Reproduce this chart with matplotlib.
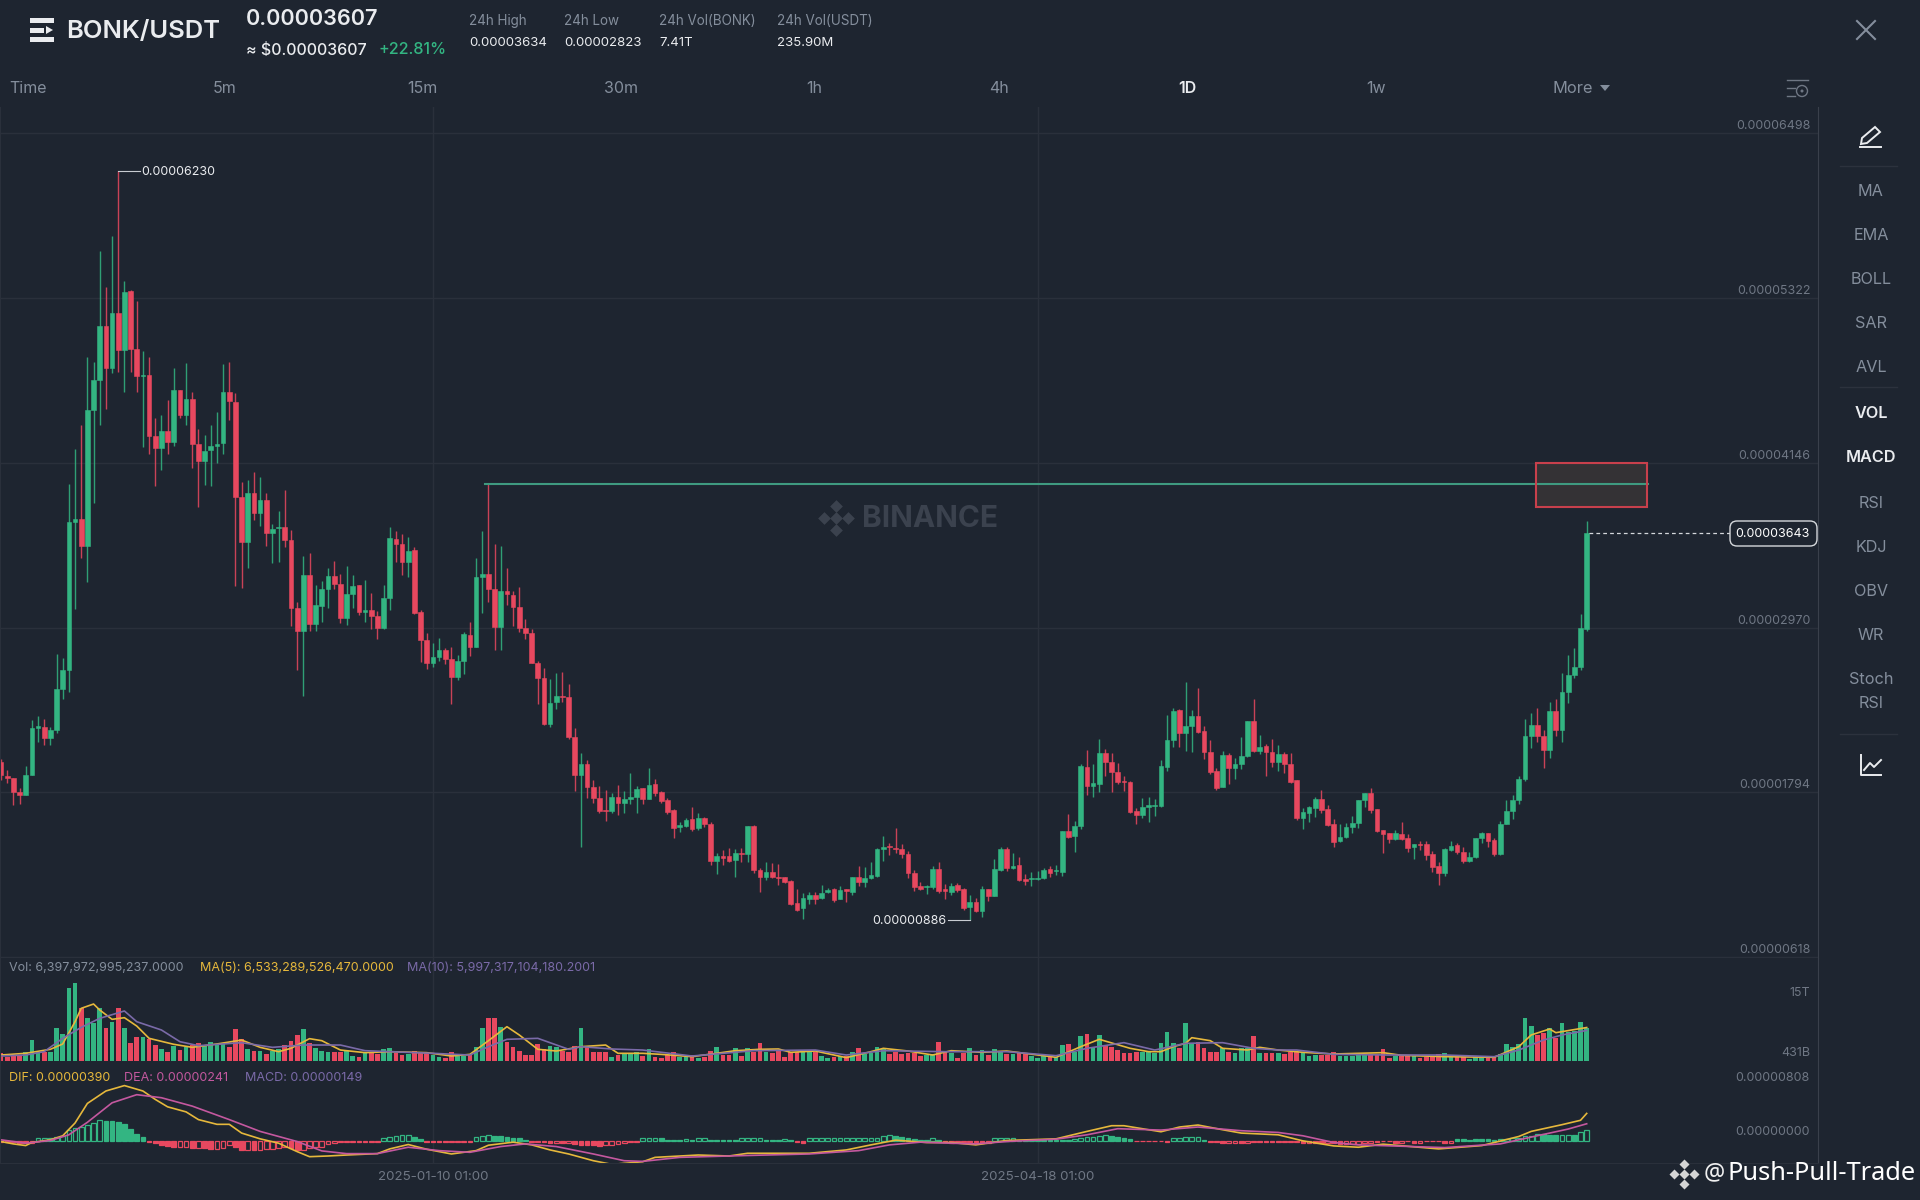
import numpy as np
from matplotlib import pyplot as plt
from matplotlib.patches import Rectangle, FancyBboxPatch, Circle, Polygon

plt.rcParams['font.family'] = ['Inter', 'DejaVu Sans']

# prices are in units of 0.00000001
opens = [2008,1912,1899,1797,1775,1915,2255,2261,2184,2237,
         2534,2670,3722,3744,3555,4520,4737,5124,4820,5217,
         4947,5371,4954,4768,4774,4335,4251,4375,4294,4666,
         4489,4604,4279,4158,4236,4267,4288,4650,4582,3901,
         3583,3932,3784,3880,3648,3679,3685,3592,3106,2942,
         3344,2998,3126,3245,3338,3281,3036,3207,3274,3083,
         3095,3055,2964,3183,3604,3564,3438,3523,3079,2881,
         2715,2762,2810,2746,2615,2729,2917,2834,3328,3352,
         3245,2976,3231,3205,3119,2967,2929,2719,2612,2282,
         2436,2484,2477,2191,1918,1996,1830,1751,1668,1661,
         1763,1720,1749,1758,1822,1744,1851,1799,1739,1668,
         1544,1556,1601,1542,1611,1568,1306,1339,1339,1311,
         1358,1351,1553,1239,1187,1223,1192,1190,1161,1002,
         966,1033,1061,1037,1085,1102,1033,1102,1080,1187,
         1156,1180,1197,1387,1411,1399,1389,1351,1220,1128,
         1120,1116,1244,1101,1085,1132,1104,973,1009,949,
         1101,1054,1239,1389,1251,1273,1173,1173,1173,1180,
         1244,1230,1225,1518,1484,1553,1977,1839,1853,2072,
         2013,1941,1877,1870,1663,1632,1691,1696,1696,1977,
         2167,2381,2219,2269,2341,2231,2079,1948,1834,2060,
         1965,1993,2053,2303,2091,2124,2084,2013,2067,1993,
         1882,1613,1649,1684,1744,1672,1568,1449,1473,1549,
         1572,1739,1791,1675,1525,1501,1458,1496,1468,1406,
         1425,1423,1354,1270,1216,1382,1415,1370,1304,1330,
         1465,1501,1453,1351,1568,1661,1739,1886,2198,2274,
         2198,2096,2374,2239,2512,2631,2686,2959]
closes = [1921,1896,1797,1775,1915,2255,2268,2184,2237,2534,
          2664,3722,3744,3555,4520,4737,5124,4820,5217,4947,
          5365,4954,4768,4774,4335,4251,4375,4294,4666,4489,
          4604,4282,4158,4226,4263,4282,4650,4588,3901,3583,
          3932,3784,3880,3648,3676,3685,3598,3112,2942,3344,
          2998,3128,3243,3338,3281,3036,3207,3269,3079,3093,
          3055,2964,3181,3607,3564,3438,3516,3076,2881,2715,
          2760,2807,2746,2619,2729,2922,2834,3328,3352,3245,
          2976,3231,3207,3119,2964,2929,2719,2612,2282,2434,
          2484,2474,2191,1918,1996,1830,1751,1663,1661,1763,
          1720,1744,1758,1815,1744,1849,1791,1734,1656,1537,
          1561,1599,1530,1611,1565,1306,1339,1323,1306,1358,
          1354,1553,1239,1187,1223,1192,1185,1154,997,954,
          1037,1061,1030,1078,1099,1026,1097,1092,1192,1156,
          1180,1204,1389,1404,1401,1387,1351,1220,1120,1106,
          1128,1247,1092,1092,1128,1097,971,1009,947,1104,
          1056,1247,1389,1251,1268,1168,1161,1180,1180,1239,
          1216,1239,1518,1477,1553,1982,1841,1858,2072,2013,
          1941,1870,1865,1656,1632,1691,1703,1706,1984,2167,
          2374,2219,2269,2341,2222,2079,1941,1822,2060,1970,
          1996,2053,2303,2091,2115,2084,2013,2067,1993,1870,
          1608,1651,1687,1746,1668,1561,1442,1473,1549,1572,
          1739,1791,1668,1520,1494,1458,1501,1458,1394,1425,
          1415,1346,1263,1216,1387,1413,1366,1304,1330,1470,
          1501,1449,1354,1568,1661,1741,1889,2196,2274,2198,
          2096,2374,2239,2512,2631,2686,2969,3643]
highs = [2035,1952,1899,1828,1983,2308,2339,2314,2261,2781,
         2750,3994,4242,4418,4898,4867,5659,5402,5767,6230,
         5442,5381,5300,4944,4898,4465,4489,4591,4820,4666,
         4855,4653,4387,4341,4412,4505,4851,4867,4644,4010,
         4025,4081,4047,3932,3710,3799,3948,3669,3152,3477,
         3499,3273,3302,3393,3447,3350,3409,3345,3274,3309,
         3219,3088,3274,3685,3659,3638,3619,3547,3095,2929,
         2862,2893,2822,2829,2774,2936,3007,3469,3659,3996,
         3564,3554,3393,3231,3257,3031,2960,2734,2679,2600,
         2643,2650,2565,2251,2072,2025,1882,1842,1811,1787,
         1846,1806,1934,1839,1822,1965,1887,1803,1756,1672,
         1585,1608,1692,1644,1620,1585,1358,1382,1399,1389,
         1394,1553,1561,1251,1294,1287,1282,1192,1168,1104,
         1073,1085,1085,1133,1113,1109,1128,1102,1192,1268,
         1259,1294,1394,1482,1430,1542,1423,1377,1239,1156,
         1132,1268,1299,1140,1144,1149,1109,1061,1042,1125,
         1101,1316,1406,1401,1363,1330,1211,1223,1235,1256,
         1268,1275,1518,1639,1589,1993,2096,1996,2172,2101,
         2072,2001,1913,1877,1679,1756,1763,1744,2024,2346,
         2398,2390,2579,2381,2536,2267,2167,1965,2089,2077,
         2041,2186,2303,2460,2203,2136,2172,2131,2084,2077,
         1882,1679,1699,1763,1810,1703,1601,1568,1577,1625,
         1739,1791,1822,1675,1525,1506,1525,1584,1494,1425,
         1449,1449,1375,1299,1394,1446,1430,1406,1366,1470,
         1513,1506,1465,1589,1739,1775,1913,2315,2362,2393,
         2239,2441,2457,2643,2774,2821,3066,3730]
lows = [1884,1859,1704,1710,1775,1915,2153,2131,2131,2215,
        2462,2509,3103,3468,3298,3855,4412,4526,4783,4793,
        4653,4793,4653,4257,4205,3979,4096,4205,4267,4468,
        4412,4109,3833,3985,3979,4143,4211,4449,3267,3252,
        3397,3740,3691,3555,3431,3437,3546,2982,2664,2478,
        2948,2942,3012,3107,3243,3005,2988,3112,3060,3007,
        2960,2888,2960,3095,3440,3345,3328,3064,2722,2674,
        2686,2734,2707,2424,2596,2639,2769,2834,3076,3155,
        2810,2810,3131,2983,2936,2888,2715,2424,2275,2263,
        2386,2441,2172,1806,1406,1751,1720,1644,1590,1644,
        1632,1649,1711,1649,1708,1744,1770,1720,1637,1466,
        1513,1549,1518,1525,1549,1275,1208,1275,1294,1192,
        1299,1299,1216,1080,1168,1185,1133,1145,990,949,
        890,997,997,1030,1073,1014,1030,1014,1061,1125,
        1121,1173,1192,1304,1346,1358,1327,1180,1090,1097,
        1066,1101,1078,1030,1061,1085,954,886,942,906,
        1021,1054,1235,1232,1247,1163,1132,1125,1168,1175,
        1192,1204,1199,1465,1370,1532,1775,1763,1798,1910,
        1798,1853,1803,1644,1568,1608,1580,1627,1691,1948,
        2115,2115,2091,2079,2215,2032,1922,1810,1834,1853,
        1889,1958,2048,2079,2067,1913,1977,1946,1929,1863,
        1596,1532,1584,1620,1649,1556,1406,1442,1465,1501,
        1542,1691,1649,1513,1358,1430,1453,1453,1366,1318,
        1382,1311,1223,1132,1197,1375,1354,1287,1294,1323,
        1430,1406,1342,1346,1566,1601,1710,1877,2108,2155,
        1970,2036,2196,2151,2429,2607,2667,2945]

# volume in trillions
volumes = [1.83,1.10,1.40,1.40,2.13,4.25,2.13,2.01,2.13,6.38,
           5.35,13.66,14.57,10.02,8.20,7.41,10.02,6.38,7.59,10.02,
           6.38,3.77,4.86,4.74,4.38,3.34,2.56,2.13,3.22,2.43,
           3.04,3.34,3.77,3.22,3.83,3.34,3.47,3.04,6.26,4.44,
           2.62,2.25,2.25,1.64,2.25,2.62,3.34,4.13,5.17,6.26,
           3.65,2.74,2.25,2.01,2.01,2.13,2.25,1.40,1.22,1.83,
           1.83,1.71,2.62,2.86,1.83,1.52,1.71,2.25,2.01,1.83,
           1.52,1.22,1.04,2.01,1.52,1.34,1.52,3.04,6.50,8.20,
           8.20,6.68,3.95,2.92,2.25,1.46,1.52,3.47,2.62,3.16,
           2.92,2.25,2.13,3.16,6.50,2.92,2.07,2.07,2.13,1.22,
           1.52,1.71,1.95,2.13,1.34,2.62,1.16,1.04,1.46,2.01,
           1.16,1.10,1.46,1.04,1.22,2.19,2.98,1.46,1.46,2.74,
           1.34,2.74,2.13,3.71,2.01,1.95,2.43,1.22,2.01,2.01,
           2.13,2.13,2.13,1.34,0.92,1.22,1.34,1.28,2.13,2.74,
           1.71,1.95,2.92,2.62,1.71,2.13,1.77,1.83,1.95,1.34,
           1.52,1.71,3.89,2.13,1.95,1.04,1.83,2.86,1.46,2.43,
           1.52,2.68,2.31,1.71,1.64,1.83,1.83,1.34,1.04,1.34,
           1.22,1.22,3.34,3.59,2.13,4.98,5.35,3.04,5.17,3.34,
           2.98,2.43,1.83,1.83,2.07,2.13,2.13,1.83,3.65,5.65,
           3.65,2.74,7.41,3.77,3.95,2.74,2.13,2.13,2.74,2.13,
           1.95,2.74,2.74,5.04,1.95,1.95,1.83,1.95,1.71,2.01,
           2.01,1.83,1.34,1.52,1.46,1.46,2.01,1.34,1.34,1.34,
           1.46,1.46,1.46,1.52,2.68,1.04,1.34,1.52,1.46,1.34,
           0.92,1.22,1.34,1.71,1.83,1.58,1.34,1.10,0.79,1.16,
           1.10,1.10,1.22,1.71,3.47,3.04,3.53,8.20,6.80,5.17,
           5.47,6.38,4.56,7.35,5.77,5.89,7.59,6.40]

ma5_idx = [0,4,8,10,12,13,15,16,18,20,22,24,28,31,35,39,42,45,47,50,52,55,59,63,69,73,76,79,82,84,87,90,94,98,100,104,
           107,112,116,119,123,126,128,132,137,141,143,147,151,154,159,163,171,175,178,183,186,188,190,192,193,196,198,202,204,207,
           211,216,224,227,234,242,246,248,251,252,257]
ma5_vals = [1.52,1.83,2.56,3.53,7.59,10.02,10.81,9.72,8.02,8.32,6.80,4.56,3.47,2.92,3.53,4.25,2.92,2.13,2.74,4.50,4.13,2.43,1.95,2.13,1.95,1.34,1.64,4.13,6.68,5.17,2.56,2.25,3.04,3.34,1.83,1.83,
            1.64,1.22,1.83,2.31,2.56,2.62,2.01,2.25,1.04,2.13,2.74,2.25,1.52,2.31,2.01,2.25,1.10,3.04,4.38,2.74,2.13,2.13,3.04,3.65,4.68,4.13,2.74,2.43,2.92,2.43,
            2.01,1.71,1.95,1.46,1.22,1.10,3.04,5.17,6.26,5.59,6.53]
ma10_idx = [0,4,7,10,13,16,20,22,26,29,32,39,44,49,55,59,63,70,76,79,82,87,92,94,99,104,
            112,122,132,137,143,153,163,171,176,182,187,192,198,203,207,
            210,216,225,234,242,246,250,253,257]
ma10_vals = [1.34,1.52,2.13,4.56,6.56,8.20,9.54,7.59,6.08,3.95,3.22,3.77,2.92,3.34,3.34,2.31,2.13,1.83,1.52,3.04,4.38,4.56,2.56,3.04,2.62,2.43,
             1.34,2.31,2.43,1.52,2.31,2.13,2.13,1.40,2.74,3.77,2.43,3.65,3.77,2.74,2.43,
             2.43,1.64,1.52,1.52,1.22,2.43,4.25,5.17,6.00]

macd_hist = [-25,-25,-20,-30,-35,-30,35,40,35,45,
             70,150,175,190,230,250,290,285,275,260,
             240,170,100,50,-25,-35,-60,-85,-100,-100,
             -100,-110,-105,-110,-125,-120,-110,-70,-90,-135,
             -135,-140,-135,-120,-120,-115,-100,-110,-130,-130,
             -110,-100,-90,-50,-35,-20,-20,-20,-20,-20,
             -20,-25,40,55,70,80,85,50,15,-15,
             -15,-15,-15,-15,-25,-25,-25,45,65,75,
             70,60,50,35,30,10,-15,-15,-25,-35,
             -35,-40,-40,-50,-60,-65,-70,-75,-70,-65,
             -50,-30,-20,-15,35,35,35,30,10,10,
             10,20,10,30,30,10,10,10,10,10,
             30,30,30,30,10,10,10,20,8,-15,
             -30,30,30,30,30,30,30,30,30,30,
             30,30,35,70,75,65,50,30,15,10,
             10,30,8,-15,-30,-15,-15,-15,-20,-30,
             -30,35,40,40,40,10,10,10,10,10,
             10,10,10,10,25,35,45,50,70,75,
             70,50,30,20,-12,-12,-12,-12,-12,-25,
             35,40,45,45,45,10,-15,-20,-40,-30,
             -30,-40,-30,-15,-20,-15,-15,-15,-15,-15,
             -25,-30,-30,-35,-40,-40,-40,-50,-50,-50,
             -45,-40,-40,-15,-12,-12,-30,-30,-12,-30,
             -30,-12,-12,-12,-30,-30,15,15,10,15,
             15,15,10,20,25,30,40,60,70,95,
             90,85,80,80,85,80,120,149]
dif_idx = [0,2,4,5,8,10,12,14,17,20,23,25,27,30,32,35,37,39,42,45,48,50,53,56,61,63,66,69,73,77,79,83,86,89,92,96,99,104,
           106,113,118,121,131,137,141,145,150,154,158,163,171,176,180,182,188,191,194,198,201,207,
           211,216,220,224,233,240,246,248,253,256,257]
dif_vals = [-15,-49,-73,-29,10,68,252,534,713,791,713,592,485,412,301,233,233,107,24,-39,-160,-233,-223,-209,-189,-121,-58,-126,-194,-146,-68,-24,-63,-136,-194,-291,-344,-306,
            -243,-209,-223,-184,-184,-136,-63,5,-29,-29,-63,0,24,131,213,213,126,194,223,155,107,82,
            -5,-78,-97,-53,-121,-73,58,131,228,291,390]
dea_idx = [0,4,8,11,14,18,22,26,31,37,42,48,52,56,61,66,71,76,81,85,90,96,101,104,
           110,120,131,139,144,149,154,158,163,171,176,181,188,194,201,207,
           211,216,220,234,243,248,254,257]
dea_vals = [10,-39,0,82,262,543,660,616,495,301,131,-15,-150,-189,-189,-97,-146,-170,-87,-49,-87,-194,-291,-301,
            -243,-218,-194,-146,-63,-24,-39,-49,-15,19,82,170,150,194,141,116,
            68,-29,-63,-102,-49,49,165,241]

price_ticks = [618,1794,2970,4146,5322,6498]
date_ticks = [70,168]
date_labels = ['2025-01-10 01:00','2025-04-18 01:00']
resistance = 3996
zone_low, zone_high = 3828,4146

BG = '#1e2530'
GREEN = '#33b582'
RED = '#e8485f'
GRID = '#2a303b'
GRAY = '#848e9c'
DIM = '#6f7784'
WHITE = '#eaecef'
YELLOW = '#e6b83c'
PINK = '#c4589f'
PURPLE = '#7a6aa8'

x = np.arange(len(closes))
o = np.array(opens)
c = np.array(closes)
up = c >= o
colors = [GREEN if u else RED for u in up]

W, H = 1920, 1200
fig = plt.figure(figsize=(19.2,12), dpi=100, facecolor=BG)

def panel(top, bottom):
    ax = fig.add_axes([0, 1 - bottom/H, 1818/W, (bottom - top)/H], facecolor=BG)
    ax.set_xlim(-1/6.17, (1818 - 1)/6.17)
    for s in ['top','bottom']:
        ax.spines[s].set_visible(False)
    ax.spines['left'].set_color(GRID)
    ax.spines['right'].set_color('#3a404b')
    ax.set_xticks(date_ticks)
    ax.set_xticklabels([])
    ax.tick_params(length=0)
    ax.grid(True, color=GRID, lw=1)
    ax.set_axisbelow(True)
    ax.set_yticklabels([])
    return ax

# candles
ax = panel(107, 958)
ax.set_ylim(612, 6684)
ax.set_yticks(price_ticks)
ax.set_yticklabels([])
ax.vlines(x, lows, highs, colors=colors, lw=1.0, alpha=0.85)
ax.bar(x, np.abs(c - o), bottom=np.minimum(o, c), width=0.76, color=colors, edgecolor=colors, lw=0.4)
for t in price_ticks:
    ax.annotate(f'{t/1e8:.8f}', xy=(1, t), xycoords=ax.get_yaxis_transform(), xytext=(-5.5, 5),
                textcoords='offset points', ha='right', va='center', color=DIM, fontsize=8.95)

ax.plot([78.5, 266.9], [resistance, resistance], color='#3f9a80', lw=1.5, zorder=5)
ax.add_patch(Rectangle((248.8, zone_low), 17.9, zone_high - zone_low, facecolor='#c98a5a', alpha=0.13, zorder=4))
ax.add_patch(Rectangle((248.8, zone_low), 17.9, zone_high - zone_low, fill=False, edgecolor='#c8404c', lw=1.5, zorder=6))

ax.plot([19, 22.5], [6230, 6230], color='#c8ccd2', lw=0.8)
ax.text(22.7, 6222, '0.00006230', color=WHITE, fontsize=8.95, va='center')
ax.plot([153.5, 157], [886, 886], color='#c8ccd2', lw=0.8)
ax.text(153.3, 878, '0.00000886', color=WHITE, fontsize=8.95, va='center', ha='right')
ax.plot([257.3, 280.2], [3643, 3643], color='#d5d8dc', lw=0.9, ls=(0,(3,2.5)))

# volume
vax = panel(958, 1061)
vax.set_ylim(0.431, 19.19)
vax.set_yticks([])
vax.bar(x, volumes, width=0.76, color=colors)
vax.plot(ma5_idx, ma5_vals, color=YELLOW, lw=1.2)
vax.plot(ma10_idx, ma10_vals, color=PURPLE, lw=1.2)

# macd
hist = np.array(macd_hist)
max_ = panel(1061, 1163)
max_.set_ylim(-324, 1145)
max_.set_yticks([])
for i, v in enumerate(hist):
    col = GREEN if v > 0 else RED
    falling = i > 0 and v < hist[i-1]
    max_.bar(i, v, width=0.76, facecolor=col if falling or abs(v) < 20 else 'none', edgecolor=col, lw=0.9)
max_.plot(dif_idx, dif_vals, color=YELLOW, lw=1.2)
max_.plot(dea_idx, dea_vals, color=PINK, lw=1.2)
max_.spines['bottom'].set_visible(True)
max_.spines['bottom'].set_color(GRID)
max_.set_xticklabels(date_labels, color=DIM, fontsize=9.6)
max_.tick_params(axis='x', pad=6)

# page chrome, in pixel coordinates
ov = fig.add_axes([0,0,1,1], facecolor='none')
ov.set_xlim(0, W)
ov.set_ylim(H, 0)
ov.axis('off')

def label(px, py, s, color=GRAY, size=10, weight='normal', ha='left', **kw):
    ov.text(px, py + 2, s, color=color, fontsize=size, fontweight=weight, ha=ha, va='center', **kw)

# header
for bar_y, bar_x in [(20.5,54),(30,44),(39.5,54)]:
    ov.add_patch(Rectangle((30, bar_y - 2.5), bar_x - 30, 5, color=WHITE, lw=0))
ov.add_patch(Polygon([[46,26],[46,34],[53,30]], color=WHITE, lw=0))
label(66, 29.5, 'BONK/USDT', WHITE, 18.4, 'semibold')
label(246, 17, '0.00003607', WHITE, 15.6, 'semibold')
label(246, 48, '≈ $0.00003607', WHITE, 11.5, 'medium')
label(378, 48, '+22.81%', GREEN, 11.6, 'medium')
for hx, top, val in [(469,'24h High','0.00003634'),(564,'24h Low','0.00002823'),
                     (659,'24h Vol(BONK)','7.41T'),(777,'24h Vol(USDT)','235.90M')]:
    label(hx, 19, top, GRAY, 9.7)
    label(hx, 41, val, WHITE, 9.5)

# interval tabs
label(9, 86.5, 'Time', GRAY, 11.5)
for tx, s in [(225,'5m'),(422,'15m'),(621,'30m'),(814,'1h'),(999,'4h'),(1376,'1w')]:
    label(tx, 86.5, s, GRAY, 11.5, ha='center')
label(1187, 86.5, '1D', WHITE, 11.5, 'semibold', ha='center')
label(1553, 86.5, 'More', GRAY, 11.8)
ov.add_patch(Polygon([[1600,85],[1610,85],[1605,91]], color=GRAY, lw=0))
for ly, lx0, lx1 in [(80,1787,1808),(88,1787,1795),(96,1787,1795)]:
    ov.plot([lx0, lx1], [ly, ly], color=DIM, lw=1)
ov.add_patch(Circle((1802, 91), 5.5, fill=False, edgecolor=DIM, lw=1))
ov.add_patch(Circle((1802, 91), 1.5, color=DIM, lw=0))

ov.plot([1857,1875], [21,39], color=GRAY, lw=1.5)
ov.plot([1857,1875], [39,21], color=GRAY, lw=1.5)

# side menu
for sy, s, col, w in [(190,'MA',GRAY,'normal'),(234,'EMA',GRAY,'normal'),(278,'BOLL',GRAY,'normal'),
                      (322,'SAR',GRAY,'normal'),(366,'AVL',GRAY,'normal'),(411,'VOL',WHITE,'semibold'),
                      (456,'MACD',WHITE,'semibold'),(501,'RSI',GRAY,'normal'),(545,'KDJ',GRAY,'normal'),
                      (589,'OBV',GRAY,'normal'),(633,'WR',GRAY,'normal'),(677,'Stoch',GRAY,'normal'),(701,'RSI',GRAY,'normal')]:
    label(1871, sy, s, col, 11.7, w, ha='center')
for sy in [166,387,734]:
    ov.plot([1840,1897], [sy,sy], color='#2c323d', lw=1)
ov.add_patch(Polygon([[1862,138],[1875,127],[1880,132],[1867,143],[1861,144]], fill=False, edgecolor=WHITE, lw=1.4))
ov.plot([1860,1881], [147,147], color=WHITE, lw=1.4)
ov.plot([1861,1861,1881], [755,775,775], color=WHITE, lw=1.4)
ov.plot([1864,1870,1874,1881], [770,763,767,760], color=WHITE, lw=1.4)

# price badge
ov.add_patch(FancyBboxPatch((1735, 526), 77, 15, boxstyle='round,pad=5,rounding_size=7', facecolor=BG, edgecolor='#d5d8dc', lw=1))
label(1810, 532, '0.00003643', '#ffffff', 8.95, ha='right')

# indicator legends
label(9, 966, 'Vol: 6,397,972,995,237.0000', GRAY, 9.05)
label(200, 966, 'MA(5): 6,533,289,526,470.0000', YELLOW, 9.05)
label(407, 966, 'MA(10): 5,997,317,104,180.2001', PURPLE, 9.05)
label(9, 1076, 'DIF: 0.00000390', YELLOW, 9.05)
label(124, 1076, 'DEA: 0.00000241', PINK, 9.05)
label(245, 1076, 'MACD: 0.00000149', PURPLE, 9.05)
label(1810, 991, '15T', DIM, 8.95, ha='right')
label(1810, 1051, '431B', DIM, 8.95, ha='right')
label(1810, 1076, '0.00000808', DIM, 8.95, ha='right')
label(1810, 1130, '0.00000000', DIM, 8.95, ha='right')

# watermarks
label(862, 517, 'BINANCE', '#3b424e', 21.5, 'bold')
for (dx, dy, ds, col) in [(836,518,42,'#3b424e'),(836,506,42,'#3b424e'),(836,530,42,'#3b424e'),(824,518,42,'#3b424e'),(848,518,42,'#3b424e'),
                          (1684,1174,26,'#d5d5d5'),(1684,1164,26,'#d5d5d5'),(1684,1184,26,'#d5d5d5'),(1674,1174,26,'#d5d5d5'),(1694,1174,26,'#d5d5d5')]:
    ov.scatter([dx],[dy], marker='D', s=ds, color=col, lw=0)
ov.text(1704, 1173, '@', color='#f0f0f0', fontsize=17, ha='left', va='center', family='Noto Sans')
ov.text(1727, 1173, 'Push-Pull-Trade', color='#ffffff', fontsize=18.3, ha='left', va='center', family='Noto Sans')

fig.savefig('out.png', dpi=100, facecolor=BG)
